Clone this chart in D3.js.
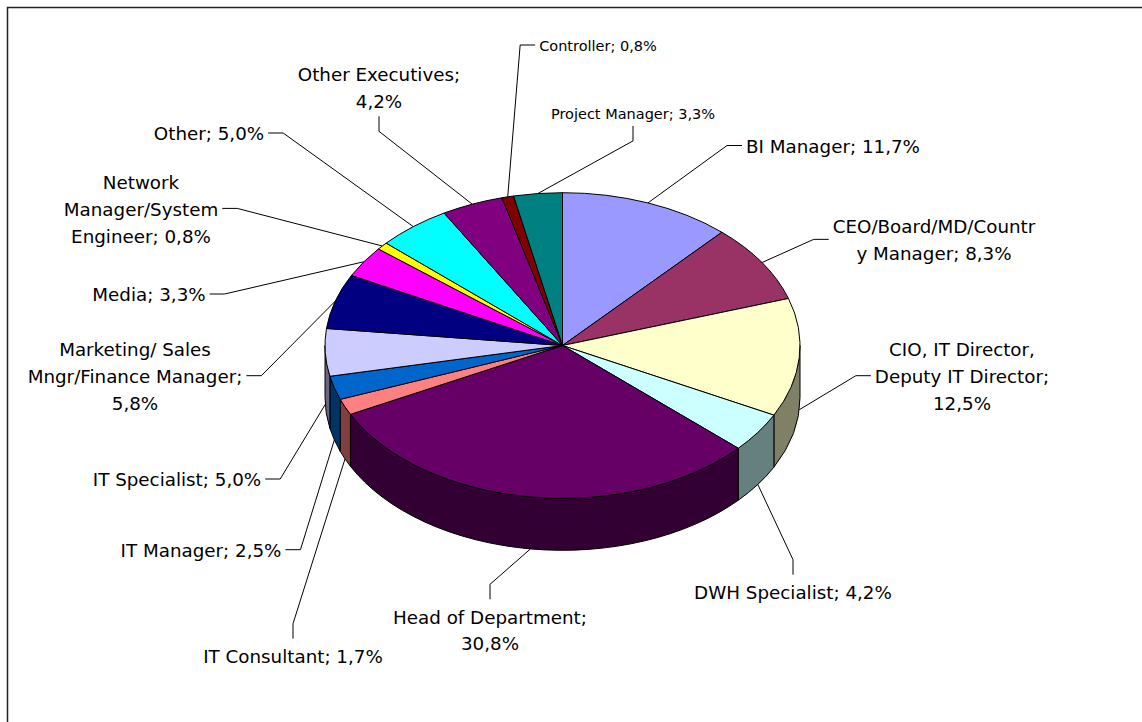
<!DOCTYPE html>
<html>
<head>
<meta charset="utf-8">
<script src="https://cdn.jsdelivr.net/npm/d3@7"></script>
<style>
  body { margin: 0; background: #fff; }
  svg { display: block; font-family: "DejaVu Sans", Verdana, sans-serif; }
</style>
</head>
<body>
<svg width="1142" height="722"></svg>
<script>
// data (share of respondents, %)
const categories = ["BI Manager", "CEO/Board/MD/Country Manager", "CIO, IT Director, Deputy IT Director",
  "DWH Specialist", "Head of Department", "IT Consultant", "IT Manager", "IT Specialist",
  "Marketing/ Sales Mngr/Finance Manager", "Media", "Network Manager/System Engineer", "Other",
  "Other Executives", "Controller", "Project Manager"];
const shares = [11.7, 8.3, 12.5, 4.2, 30.8, 1.7, 2.5, 5.0, 5.8, 3.3, 0.8, 5.0, 4.2, 0.8, 3.3];
const colors = ["#9999ff", "#993366", "#ffffcc", "#ccffff", "#660066", "#ff8080", "#0066cc", "#ccccff",
  "#000080", "#ff00ff", "#ffff00", "#00ffff", "#800080", "#800000", "#008080"];

// label layout (excel labels were dragged by hand)
const labelX = [833, 934, 962, 793, 490, 293, 201, 177, 135, 149, 141, 209, 379, 598, 633];
const labelY = [146.5, 227, 350, 592.7, 617.3, 656.7, 550.7, 480, 350, 295, 182.7, 134, 75, 46, 114.3];
const labelSide = ["left", "left", "left", "top", "top", "top", "right", "right", "right", "right", "right", "right", "bottom", "left", "bottom"];
const labelWrap = [999, 207, 195, 999, 225, 999, 999, 999, 238, 999, 190, 999, 188, 999, 999];
const labelSize = [18.3, 18.3, 18.3, 18.3, 18.3, 18.3, 18.3, 18.3, 18.3, 18.3, 18.3, 18.3, 18.3, 14.5, 14.5];

const svg = d3.select("svg")
const cx = 562.5, cy = 345.5, rx = 237.5, ry = 152.8, depth = 52
const lineH = 26.7

// frame (right and bottom edges fall outside the picture)
svg.append("path")
  .attr("d", "M7.5,722V7.5H1142")
  .attr("fill", "none")
  .attr("stroke", "#222")
  .attr("stroke-width", 1.5)

const arcs = d3.pie().sort(null).value(d => d)(shares)

function topPt(a){ return [cx + rx*Math.sin(a), cy - ry*Math.cos(a)] }
function botPt(a){ return [cx + rx*Math.sin(a), cy - ry*Math.cos(a) + depth] }

// side walls, only the front half shows
const walls = []
arcs.forEach((d, i) => {
  const s = Math.max(d.startAngle, Math.PI/2)
  const e = Math.min(d.endAngle, Math.PI*1.5)
  if(s < e) walls.push({i: i, s: s, e: e})
})
svg.append("g").selectAll("path")
  .data(walls)
  .enter()
  .append("path")
  .attr("d", w => {
    const p0 = topPt(w.s), p1 = topPt(w.e), q1 = botPt(w.e), q0 = botPt(w.s)
    return "M" + p0 + "A" + rx + "," + ry + " 0 0 1 " + p1 +
      "L" + q1 + "A" + rx + "," + ry + " 0 0 0 " + q0 + "Z"
  })
  .attr("fill", w => d3.interpolateRgb(colors[w.i], "#000")(0.5))
  .attr("stroke", "#000")
  .attr("stroke-width", 1)
  .attr("stroke-linejoin", "round")

// top faces: circle arcs squashed into the ellipse
const arc = d3.arc().innerRadius(0).outerRadius(rx)
svg.append("g")
  .attr("transform", "translate(" + cx + "," + cy + ") scale(1," + (ry/rx) + ")")
  .selectAll("path")
  .data(arcs)
  .enter()
  .append("path")
  .attr("d", arc)
  .attr("fill", (d, i) => colors[i])
  .attr("stroke", "#000")
  .attr("stroke-width", 1)
  .attr("vector-effect", "non-scaling-stroke")
  .attr("stroke-linejoin", "round")

// labels
const measurer = svg.append("text").attr("visibility", "hidden")
function measure(str, size){
  measurer.attr("font-size", size).text(str)
  return measurer.node().getComputedTextLength()
}
function wrapLines(str, width, size){
  const words = str.split(" ")
  let lines = [], cur = ""
  words.forEach(w => {
    const trial = cur ? cur + " " + w : w
    if(measure(trial, size) <= width){ cur = trial; return }
    if(cur) lines.push(cur)
    cur = w
    while(measure(cur, size) > width){
      let k = cur.length
      while(k > 1 && measure(cur.slice(0, k), size) > width) k--
      lines.push(cur.slice(0, k))
      cur = cur.slice(k)
    }
  })
  if(cur) lines.push(cur)
  return lines
}

const labelG = svg.append("g")
const leaderG = svg.append("g")
arcs.forEach((d, i) => {
  const txt = categories[i] + "; " + shares[i].toFixed(1).replace(".", ",") + "%"
  const size = labelSize[i]
  const lines = wrapLines(txt, labelWrap[i], size)
  const t = labelG.append("text")
    .attr("font-size", size)
    .attr("fill", "#000")
    .attr("text-anchor", "middle")
  let maxW = 0
  lines.forEach((ln, k) => {
    t.append("tspan")
      .attr("x", labelX[i])
      .attr("y", labelY[i] + k*lineH)
      .attr("dy", "0.35em")
      .text(ln)
    maxW = Math.max(maxW, measure(ln, size))
  })
  const firstY = labelY[i], lastY = labelY[i] + (lines.length - 1)*lineH
  const midY = (firstY + lastY)/2 - 1
  let end, elbow
  if(labelSide[i] == "left"){
    end = [labelX[i] - maxW/2 - 4, midY]; elbow = [end[0] - 15, midY]
  } else if(labelSide[i] == "right"){
    end = [labelX[i] + maxW/2 + 4, midY]; elbow = [end[0] + 15, midY]
  } else if(labelSide[i] == "top"){
    end = [labelX[i], firstY - 18]; elbow = [labelX[i], end[1] - 15]
  } else {
    end = [labelX[i], lastY + size*0.8]; elbow = [labelX[i], end[1] + 15]
  }
  const mid = (d.startAngle + d.endAngle)/2
  const anchor = Math.cos(mid) < 0 ? botPt(mid) : topPt(mid)
  leaderG.append("path")
    .attr("d", "M" + anchor + "L" + elbow + "L" + end)
    .attr("fill", "none")
    .attr("stroke", "#000")
    .attr("stroke-width", 1)
})
measurer.remove()
</script>
</body>
</html>
